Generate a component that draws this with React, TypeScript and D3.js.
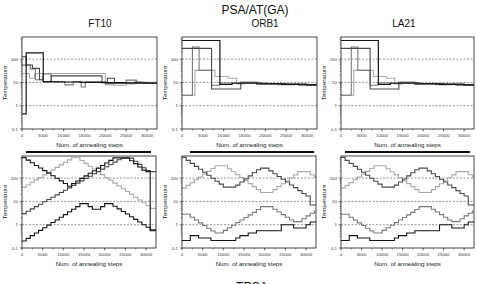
import React from 'react';
import * as d3 from 'd3';

type Pt = [number, number];

// annealing step grid used by the TPSA runs (one temperature per 1000 steps)
const stepGrid = [
  0, 1000, 2000, 3000, 4000, 5000, 6000, 7000, 8000, 9000, 10000, 11000, 12000, 13000, 14000, 15000,
  16000, 17000, 18000, 19000, 20000, 21000, 22000, 23000, 24000, 25000, 26000, 27000, 28000, 29000,
  30000, 31000, 32000,
];

// TPSA – FT10
const ft10TpsaA = [760, 590, 455, 350, 270, 210, 163, 126, 98, 76, 59, 45, 58, 75, 97, 125, 161, 208, 268, 346, 446, 575, 740, 740, 740, 740, 560, 420, 300, 220, 190, 0.55, 0.55];
const ft10TpsaB = [3, 3.8, 4.8, 6, 7.6, 9.6, 12, 15, 19, 24, 30, 38, 48, 61, 76, 96, 121, 153, 193, 243, 306, 386, 486, 612, 720, 720, 720, 530, 390, 280, 210, 190, 190];
const ft10TpsaC = [40, 51, 66, 84, 107, 137, 176, 225, 288, 369, 472, 604, 750, 750, 570, 430, 325, 246, 186, 141, 107, 81, 61, 46, 35, 26.5, 20, 15.2, 11.5, 8.7, 6.6, 5, 5];
const ft10TpsaD = [0.2, 0.26, 0.34, 0.44, 0.57, 0.74, 0.96, 1.25, 1.6, 2.1, 2.7, 3.6, 4.6, 6, 8, 8, 6, 4.6, 4.6, 6, 8, 8, 6.2, 4.8, 3.7, 2.9, 2.2, 1.7, 1.3, 1.0, 0.78, 0.6, 0.6];

// TPSA – ORB1 (LA21 run looks the same)
const orbTpsaE = [780, 580, 430, 320, 240, 178, 132, 98, 73, 55, 41, 41, 41, 50, 68, 92, 125, 170, 230, 268, 268, 205, 155, 117, 89, 68, 51, 39, 29, 22, 17, 7, 7];
const orbTpsaF = [37, 49, 64, 85, 112, 148, 195, 258, 340, 340, 340, 253, 189, 141, 105, 78, 58, 43, 32, 24, 24, 24, 32, 43, 57, 77, 103, 138, 190, 190, 190, 140, 110];
const orbTpsaG = [2.8, 2.8, 2.1, 1.6, 1.2, 0.92, 0.7, 0.54, 0.44, 0.44, 0.57, 0.74, 0.95, 1.23, 1.6, 2.05, 2.65, 3.4, 4.5, 6, 6, 6, 4.6, 3.5, 2.7, 2.1, 1.6, 1.35, 1.35, 1.8, 2.4, 3.1, 3.8];
const orbTpsaH = [0.21, 0.21, 0.34, 0.34, 0.27, 0.27, 0.27, 0.21, 0.21, 0.21, 0.21, 0.21, 0.21, 0.27, 0.34, 0.34, 0.44, 0.44, 0.55, 0.55, 0.55, 0.55, 0.55, 0.55, 1.0, 1.0, 1.0, 0.72, 0.72, 0.72, 1.0, 1.3, 1.3];

// PSA/AT(GA) – FT10 (step changes: [step, temperature])
const ft10PsaA: Pt[] = [[0, 0.45], [1000, 185], [5100, 10.6], [9000, 10.4], [14000, 10.0], [19000, 9.8], [25000, 9.6], [30000, 9.4]];
const ft10PsaB: Pt[] = [[0, 126], [1000, 56], [2500, 40], [4200, 13], [5100, 11], [7000, 19], [19200, 10], [20500, 15], [22200, 9.4], [27000, 9.2], [32000, 9.2]];
const ft10PsaC: Pt[] = [[0, 55], [2000, 38], [3200, 13], [5000, 23], [7000, 11], [10300, 7.8], [12300, 11], [14200, 6.4], [15200, 10.5], [20000, 9.0], [25000, 12.5], [27500, 9.6], [30000, 9.3]];
const ft10PsaD: Pt[] = [[0, 24], [1800, 15], [3000, 24], [20000, 8], [22000, 7.5], [25000, 8.5], [27000, 11], [29000, 10], [32000, 9.5]];

// PSA/AT(GA) – ORB1 (LA21 run looks the same)
const orbPsaA: Pt[] = [[0, 630], [9100, 8.2], [12000, 9.2], [18000, 8.7], [24000, 8.2], [28000, 7.8]];
const orbPsaB: Pt[] = [[0, 290], [7100, 5.2], [14100, 9.6], [19000, 9.0], [25000, 8.4], [30000, 8.0]];
const orbPsaC: Pt[] = [[0, 2.8], [2500, 330], [4100, 33], [7100, 7.5], [9000, 9.5], [14000, 10.3], [18000, 8.6], [23000, 8.0], [27000, 8.6], [30000, 7.6]];
const orbPsaD: Pt[] = [[0, 2.8], [3100, 33], [7900, 18], [11100, 15], [13100, 8.5], [15000, 9.8], [20000, 8.8], [26000, 8.2], [30000, 7.4]];

const yMajor = [0.1, 1, 10, 100];
const xLabelText = 'Num. of annealing steps';
const yLabelText = 'Temperature';

const X_MAX = 32400;
const T_DOMAIN: [number, number] = [0.1, 890];
const FONT = '"Liberation Sans", Arial, sans-serif';

const BLACK = '#151515';
const DARK = '#4a4a4a';
const MID = '#7a7a7a';
const LIGHT = '#ababab';

interface Series { pts: Pt[]; color: string; width: number; }

const fromGrid = (vals: number[]): Pt[] => stepGrid.map((s, i) => [s, vals[i]] as Pt);

const columns = [
  {
    name: 'FT10', titleX: 100, top: [22, 157], bottom: [22, 156], bar: [26, 151],
    psa: [
      { pts: ft10PsaD, color: LIGHT, width: 1.1 },
      { pts: ft10PsaC, color: MID, width: 1.1 },
      { pts: ft10PsaB, color: DARK, width: 1.1 },
      { pts: ft10PsaA, color: BLACK, width: 1.2 },
    ],
    tpsa: [
      { pts: fromGrid(ft10TpsaC), color: LIGHT, width: 1.1 },
      { pts: fromGrid(ft10TpsaB), color: DARK, width: 1.1 },
      { pts: fromGrid(ft10TpsaA), color: BLACK, width: 1.1 },
      { pts: fromGrid(ft10TpsaD), color: BLACK, width: 1.1 },
    ],
  },
  {
    name: 'ORB1', titleX: 265, top: [182, 317], bottom: [182, 316], bar: [190, 314],
    psa: [
      { pts: orbPsaD, color: LIGHT, width: 1.1 },
      { pts: orbPsaC, color: MID, width: 1.1 },
      { pts: orbPsaB, color: DARK, width: 1.1 },
      { pts: orbPsaA, color: BLACK, width: 1.2 },
    ],
    tpsa: [
      { pts: fromGrid(orbTpsaF), color: LIGHT, width: 1.1 },
      { pts: fromGrid(orbTpsaG), color: MID, width: 1.1 },
      { pts: fromGrid(orbTpsaE), color: DARK, width: 1.1 },
      { pts: fromGrid(orbTpsaH), color: BLACK, width: 1.1 },
    ],
  },
  {
    name: 'LA21', titleX: 404, top: [341, 474], bottom: [341, 474], bar: [345, 470],
    psa: [
      { pts: orbPsaD, color: LIGHT, width: 1.1 },
      { pts: orbPsaC, color: MID, width: 1.1 },
      { pts: orbPsaB, color: DARK, width: 1.1 },
      { pts: orbPsaA, color: BLACK, width: 1.2 },
    ],
    tpsa: [
      { pts: fromGrid(orbTpsaF), color: LIGHT, width: 1.1 },
      { pts: fromGrid(orbTpsaG), color: MID, width: 1.1 },
      { pts: fromGrid(orbTpsaE), color: DARK, width: 1.1 },
      { pts: fromGrid(orbTpsaH), color: BLACK, width: 1.1 },
    ],
  },
];

const Panel: React.FC<{ id: string; x0: number; x1: number; y0: number; y1: number; series: Series[] }> = ({
  id, x0, x1, y0, y1, series,
}) => {
  const x = d3.scaleLinear().domain([0, X_MAX]).range([x0, x1]);
  const y = d3.scaleLog().domain(T_DOMAIN).range([y1, y0]);
  const line = d3.line<Pt>().x(d => x(d[0])).y(d => y(d[1])).curve(d3.curveStepAfter);

  const yMinor = y.ticks().filter(v => !yMajor.some(m => Math.abs(m - v) < 1e-9));
  const xMajor = x.ticks(7);
  const xMinor = d3.range(0, X_MAX, 2500);

  return (
    <g>
      <defs>
        <clipPath id={`clip-${id}`}>
          <rect x={x0} y={y0} width={x1 - x0} height={y1 - y0} />
        </clipPath>
      </defs>

      {/* dashed reference lines at 1, 10, 100 */}
      {yMajor.slice(1).map(v => (
        <line key={v} x1={x0} x2={x1} y1={y(v)} y2={y(v)} stroke="#6a6a6a" strokeWidth={0.7} strokeDasharray="2,1.5" />
      ))}

      <g clipPath={`url(#clip-${id})`}>
        {series.map((s, i) => {
          const last = s.pts[s.pts.length - 1];
          const pts: Pt[] = [...s.pts, [X_MAX, last[1]]];
          return <path key={i} d={line(pts) || ''} fill="none" stroke={s.color} strokeWidth={s.width} />;
        })}
      </g>

      <rect x={x0} y={y0} width={x1 - x0} height={y1 - y0} fill="none" stroke="#333" strokeWidth={0.9} />

      {/* y axis */}
      {yMinor.map(v => (
        <line key={`ym${v}`} x1={x0 - 1.3} x2={x0} y1={y(v)} y2={y(v)} stroke="#333" strokeWidth={0.5} />
      ))}
      {yMajor.map(v => (
        <g key={`yM${v}`}>
          <line x1={x0 - 2.5} x2={x0} y1={y(v)} y2={y(v)} stroke="#333" strokeWidth={0.6} />
          <text x={x0 - 4} y={y(v) + 1.5} textAnchor="end" fontSize={4.4} fill="#333" fontFamily={FONT}>
            {String(v)}
          </text>
        </g>
      ))}

      {/* x axis */}
      {xMinor.map(v => (
        <line key={`xm${v}`} x1={x(v)} x2={x(v)} y1={y1} y2={y1 + 1.5} stroke="#333" strokeWidth={0.5} />
      ))}
      {xMajor.map(v => (
        <g key={`xM${v}`}>
          <line x1={x(v)} x2={x(v)} y1={y1} y2={y1 + 2.5} stroke="#333" strokeWidth={0.6} />
          <text x={x(v)} y={y1 + 8} textAnchor="middle" fontSize={4.4} fill="#333" fontFamily={FONT}>
            {String(v)}
          </text>
        </g>
      ))}

      <text x={(x0 + x1) / 2} y={y1 + 17.5} textAnchor="middle" fontSize={6.2} fill="#222" fontFamily={FONT}>
        {xLabelText}
      </text>
      <text
        transform={`translate(${x0 - 15.5},${(y0 + y1) / 2}) rotate(-90)`}
        textAnchor="middle"
        fontSize={6.2}
        fill="#222"
        fontFamily={FONT}
      >
        {yLabelText}
      </text>
    </g>
  );
};

export default function App() {
  const W = 477;
  const H = 284;
  const topRow = { y0: 37, y1: 129 };
  const bottomRow = { y0: 156, y1: 248 };

  return (
    <div style={{ position: 'absolute', left: 0, top: 0, width: W, height: H, background: '#fff', overflow: 'hidden' }}>
      <svg width={W} height={H} viewBox={`0 0 ${W} ${H}`} style={{ display: 'block' }}>
        <rect width={W} height={H} fill="#fff" />
        <text x={255} y={13.5} textAnchor="middle" fontSize={12} fill="#111" fontFamily={FONT}>PSA/AT(GA)</text>

        {columns.map(c => (
          <g key={c.name}>
            <text x={c.titleX} y={27} textAnchor="middle" fontSize={10} fill="#111" fontFamily={FONT}>{c.name}</text>
            <Panel id={`${c.name}-psa`} x0={c.top[0]} x1={c.top[1]} y0={topRow.y0} y1={topRow.y1} series={c.psa} />
            <rect x={c.bar[0]} y={151} width={c.bar[1] - c.bar[0]} height={2} fill="#111" />
            <Panel id={`${c.name}-tpsa`} x0={c.bottom[0]} x1={c.bottom[1]} y0={bottomRow.y0} y1={bottomRow.y1} series={c.tpsa} />
          </g>
        ))}

        <text x={252} y={291} textAnchor="middle" fontSize={12} fill="#111" fontFamily={FONT}>TPSA</text>
      </svg>
    </div>
  );
}
